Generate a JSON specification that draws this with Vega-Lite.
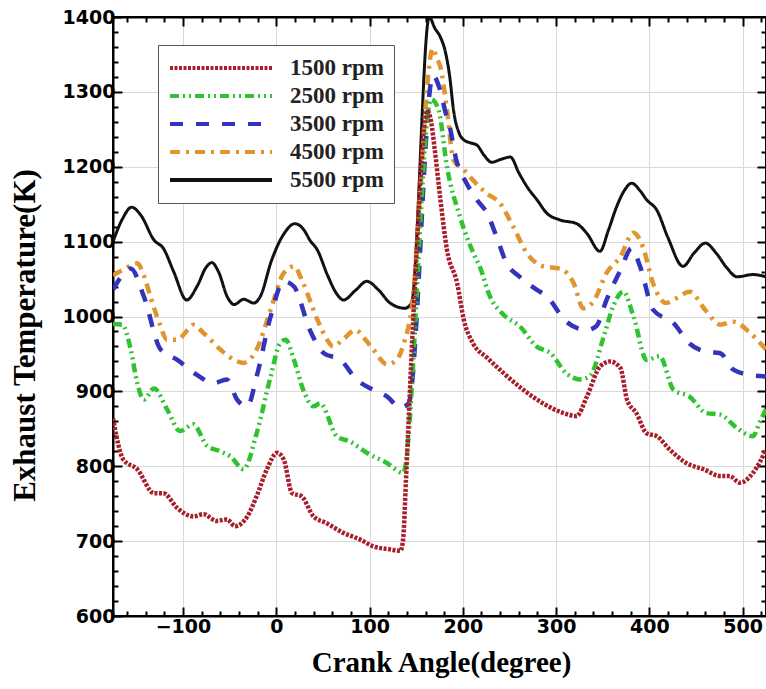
{
  "$schema": "https://vega.github.io/schema/vega-lite/v6.json",
  "width": 653,
  "height": 599,
  "autosize": {"type": "none"},
  "padding": {"left": 113, "top": 17, "right": 0, "bottom": 73},
  "background": "white",
  "config": {"view": {"stroke": "black", "strokeWidth": 2}},
  "datasets": {
    "curves": [
      {"rpm":"5500 rpm","x":-175,"T":1100},{"rpm":"5500 rpm","x":-165,"T":1130},{"rpm":"5500 rpm","x":-155,"T":1146},{"rpm":"5500 rpm","x":-145,"T":1135},{"rpm":"5500 rpm","x":-131,"T":1102},{"rpm":"5500 rpm","x":-121,"T":1091},{"rpm":"5500 rpm","x":-110,"T":1060},{"rpm":"5500 rpm","x":-96,"T":1022},{"rpm":"5500 rpm","x":-85,"T":1040},{"rpm":"5500 rpm","x":-75,"T":1066},{"rpm":"5500 rpm","x":-69,"T":1072},{"rpm":"5500 rpm","x":-62,"T":1060},{"rpm":"5500 rpm","x":-52,"T":1025},{"rpm":"5500 rpm","x":-45,"T":1016},{"rpm":"5500 rpm","x":-35,"T":1023},{"rpm":"5500 rpm","x":-24,"T":1018},{"rpm":"5500 rpm","x":-17,"T":1027},{"rpm":"5500 rpm","x":-5,"T":1075},{"rpm":"5500 rpm","x":8,"T":1110},{"rpm":"5500 rpm","x":20,"T":1124},{"rpm":"5500 rpm","x":30,"T":1115},{"rpm":"5500 rpm","x":36,"T":1102},{"rpm":"5500 rpm","x":44,"T":1089},{"rpm":"5500 rpm","x":55,"T":1055},{"rpm":"5500 rpm","x":65,"T":1030},{"rpm":"5500 rpm","x":72,"T":1022},{"rpm":"5500 rpm","x":85,"T":1035},{"rpm":"5500 rpm","x":97,"T":1047},{"rpm":"5500 rpm","x":110,"T":1035},{"rpm":"5500 rpm","x":122,"T":1018},{"rpm":"5500 rpm","x":138,"T":1011},{"rpm":"5500 rpm","x":145,"T":1018},{"rpm":"5500 rpm","x":164,"T":1400},{"rpm":"5500 rpm","x":170,"T":1385},{"rpm":"5500 rpm","x":176,"T":1373},{"rpm":"5500 rpm","x":181,"T":1355},{"rpm":"5500 rpm","x":186,"T":1320},{"rpm":"5500 rpm","x":190,"T":1276},{"rpm":"5500 rpm","x":196,"T":1245},{"rpm":"5500 rpm","x":201,"T":1236},{"rpm":"5500 rpm","x":208,"T":1232},{"rpm":"5500 rpm","x":215,"T":1229},{"rpm":"5500 rpm","x":223,"T":1215},{"rpm":"5500 rpm","x":231,"T":1206},{"rpm":"5500 rpm","x":241,"T":1210},{"rpm":"5500 rpm","x":251,"T":1213},{"rpm":"5500 rpm","x":260,"T":1192},{"rpm":"5500 rpm","x":269,"T":1173},{"rpm":"5500 rpm","x":280,"T":1155},{"rpm":"5500 rpm","x":290,"T":1138},{"rpm":"5500 rpm","x":304,"T":1129},{"rpm":"5500 rpm","x":322,"T":1124},{"rpm":"5500 rpm","x":333,"T":1111},{"rpm":"5500 rpm","x":347,"T":1087},{"rpm":"5500 rpm","x":356,"T":1115},{"rpm":"5500 rpm","x":365,"T":1147},{"rpm":"5500 rpm","x":373,"T":1168},{"rpm":"5500 rpm","x":381,"T":1178},{"rpm":"5500 rpm","x":390,"T":1168},{"rpm":"5500 rpm","x":397,"T":1156},{"rpm":"5500 rpm","x":408,"T":1142},{"rpm":"5500 rpm","x":420,"T":1105},{"rpm":"5500 rpm","x":436,"T":1067},{"rpm":"5500 rpm","x":448,"T":1085},{"rpm":"5500 rpm","x":460,"T":1098},{"rpm":"5500 rpm","x":472,"T":1084},{"rpm":"5500 rpm","x":483,"T":1065},{"rpm":"5500 rpm","x":494,"T":1053},{"rpm":"5500 rpm","x":511,"T":1056},{"rpm":"5500 rpm","x":525,"T":1053},

      {"rpm":"4500 rpm","x":-175,"T":1055},{"rpm":"4500 rpm","x":-165,"T":1062},{"rpm":"4500 rpm","x":-149,"T":1071},{"rpm":"4500 rpm","x":-142,"T":1055},{"rpm":"4500 rpm","x":-135,"T":1027},{"rpm":"4500 rpm","x":-125,"T":990},{"rpm":"4500 rpm","x":-117,"T":969},{"rpm":"4500 rpm","x":-106,"T":969},{"rpm":"4500 rpm","x":-95,"T":982},{"rpm":"4500 rpm","x":-89,"T":989},{"rpm":"4500 rpm","x":-78,"T":978},{"rpm":"4500 rpm","x":-60,"T":956},{"rpm":"4500 rpm","x":-45,"T":942},{"rpm":"4500 rpm","x":-35,"T":938},{"rpm":"4500 rpm","x":-21,"T":956},{"rpm":"4500 rpm","x":-6,"T":1009},{"rpm":"4500 rpm","x":8,"T":1058},{"rpm":"4500 rpm","x":19,"T":1067},{"rpm":"4500 rpm","x":29,"T":1044},{"rpm":"4500 rpm","x":44,"T":996},{"rpm":"4500 rpm","x":55,"T":968},{"rpm":"4500 rpm","x":61,"T":960},{"rpm":"4500 rpm","x":72,"T":970},{"rpm":"4500 rpm","x":85,"T":982},{"rpm":"4500 rpm","x":95,"T":970},{"rpm":"4500 rpm","x":104,"T":956},{"rpm":"4500 rpm","x":119,"T":936},{"rpm":"4500 rpm","x":129,"T":942},{"rpm":"4500 rpm","x":138,"T":969},{"rpm":"4500 rpm","x":144,"T":1000},{"rpm":"4500 rpm","x":168,"T":1358},{"rpm":"4500 rpm","x":172,"T":1345},{"rpm":"4500 rpm","x":176,"T":1333},{"rpm":"4500 rpm","x":183,"T":1276},{"rpm":"4500 rpm","x":190,"T":1209},{"rpm":"4500 rpm","x":201,"T":1196},{"rpm":"4500 rpm","x":211,"T":1182},{"rpm":"4500 rpm","x":225,"T":1165},{"rpm":"4500 rpm","x":240,"T":1151},{"rpm":"4500 rpm","x":254,"T":1120},{"rpm":"4500 rpm","x":269,"T":1084},{"rpm":"4500 rpm","x":286,"T":1067},{"rpm":"4500 rpm","x":304,"T":1064},{"rpm":"4500 rpm","x":319,"T":1044},{"rpm":"4500 rpm","x":329,"T":1011},{"rpm":"4500 rpm","x":340,"T":1020},{"rpm":"4500 rpm","x":354,"T":1058},{"rpm":"4500 rpm","x":369,"T":1080},{"rpm":"4500 rpm","x":383,"T":1112},{"rpm":"4500 rpm","x":393,"T":1093},{"rpm":"4500 rpm","x":404,"T":1044},{"rpm":"4500 rpm","x":418,"T":1018},{"rpm":"4500 rpm","x":430,"T":1025},{"rpm":"4500 rpm","x":443,"T":1033},{"rpm":"4500 rpm","x":461,"T":1007},{"rpm":"4500 rpm","x":476,"T":989},{"rpm":"4500 rpm","x":490,"T":993},{"rpm":"4500 rpm","x":508,"T":978},{"rpm":"4500 rpm","x":525,"T":956},

      {"rpm":"3500 rpm","x":-175,"T":1036},{"rpm":"3500 rpm","x":-165,"T":1055},{"rpm":"3500 rpm","x":-156,"T":1064},{"rpm":"3500 rpm","x":-142,"T":1027},{"rpm":"3500 rpm","x":-124,"T":956},{"rpm":"3500 rpm","x":-106,"T":942},{"rpm":"3500 rpm","x":-85,"T":922},{"rpm":"3500 rpm","x":-67,"T":911},{"rpm":"3500 rpm","x":-53,"T":916},{"rpm":"3500 rpm","x":-42,"T":889},{"rpm":"3500 rpm","x":-31,"T":880},{"rpm":"3500 rpm","x":-21,"T":920},{"rpm":"3500 rpm","x":-6,"T":1000},{"rpm":"3500 rpm","x":8,"T":1047},{"rpm":"3500 rpm","x":19,"T":1040},{"rpm":"3500 rpm","x":36,"T":982},{"rpm":"3500 rpm","x":51,"T":951},{"rpm":"3500 rpm","x":69,"T":942},{"rpm":"3500 rpm","x":86,"T":916},{"rpm":"3500 rpm","x":104,"T":902},{"rpm":"3500 rpm","x":119,"T":893},{"rpm":"3500 rpm","x":133,"T":878},{"rpm":"3500 rpm","x":142,"T":884},{"rpm":"3500 rpm","x":168,"T":1322},{"rpm":"3500 rpm","x":175,"T":1305},{"rpm":"3500 rpm","x":182,"T":1270},{"rpm":"3500 rpm","x":186,"T":1253},{"rpm":"3500 rpm","x":193,"T":1209},{"rpm":"3500 rpm","x":204,"T":1178},{"rpm":"3500 rpm","x":215,"T":1156},{"rpm":"3500 rpm","x":226,"T":1138},{"rpm":"3500 rpm","x":236,"T":1107},{"rpm":"3500 rpm","x":247,"T":1071},{"rpm":"3500 rpm","x":261,"T":1053},{"rpm":"3500 rpm","x":279,"T":1036},{"rpm":"3500 rpm","x":290,"T":1027},{"rpm":"3500 rpm","x":311,"T":993},{"rpm":"3500 rpm","x":333,"T":982},{"rpm":"3500 rpm","x":343,"T":987},{"rpm":"3500 rpm","x":354,"T":1022},{"rpm":"3500 rpm","x":369,"T":1062},{"rpm":"3500 rpm","x":381,"T":1091},{"rpm":"3500 rpm","x":390,"T":1067},{"rpm":"3500 rpm","x":404,"T":1009},{"rpm":"3500 rpm","x":426,"T":991},{"rpm":"3500 rpm","x":443,"T":964},{"rpm":"3500 rpm","x":461,"T":953},{"rpm":"3500 rpm","x":476,"T":951},{"rpm":"3500 rpm","x":490,"T":929},{"rpm":"3500 rpm","x":508,"T":922},{"rpm":"3500 rpm","x":525,"T":920},

      {"rpm":"2500 rpm","x":-175,"T":990},{"rpm":"2500 rpm","x":-165,"T":989},{"rpm":"2500 rpm","x":-156,"T":956},{"rpm":"2500 rpm","x":-149,"T":911},{"rpm":"2500 rpm","x":-142,"T":889},{"rpm":"2500 rpm","x":-131,"T":904},{"rpm":"2500 rpm","x":-117,"T":876},{"rpm":"2500 rpm","x":-103,"T":847},{"rpm":"2500 rpm","x":-89,"T":856},{"rpm":"2500 rpm","x":-74,"T":827},{"rpm":"2500 rpm","x":-60,"T":820},{"rpm":"2500 rpm","x":-49,"T":813},{"rpm":"2500 rpm","x":-35,"T":796},{"rpm":"2500 rpm","x":-21,"T":844},{"rpm":"2500 rpm","x":-6,"T":920},{"rpm":"2500 rpm","x":4,"T":964},{"rpm":"2500 rpm","x":10,"T":969},{"rpm":"2500 rpm","x":19,"T":942},{"rpm":"2500 rpm","x":29,"T":902},{"rpm":"2500 rpm","x":40,"T":880},{"rpm":"2500 rpm","x":47,"T":884},{"rpm":"2500 rpm","x":65,"T":840},{"rpm":"2500 rpm","x":79,"T":833},{"rpm":"2500 rpm","x":97,"T":818},{"rpm":"2500 rpm","x":119,"T":804},{"rpm":"2500 rpm","x":136,"T":791},{"rpm":"2500 rpm","x":166,"T":1290},{"rpm":"2500 rpm","x":174,"T":1276},{"rpm":"2500 rpm","x":183,"T":1200},{"rpm":"2500 rpm","x":197,"T":1133},{"rpm":"2500 rpm","x":213,"T":1080},{"rpm":"2500 rpm","x":218,"T":1067},{"rpm":"2500 rpm","x":229,"T":1027},{"rpm":"2500 rpm","x":244,"T":1002},{"rpm":"2500 rpm","x":261,"T":987},{"rpm":"2500 rpm","x":279,"T":960},{"rpm":"2500 rpm","x":294,"T":951},{"rpm":"2500 rpm","x":311,"T":924},{"rpm":"2500 rpm","x":326,"T":916},{"rpm":"2500 rpm","x":336,"T":920},{"rpm":"2500 rpm","x":351,"T":973},{"rpm":"2500 rpm","x":361,"T":1013},{"rpm":"2500 rpm","x":372,"T":1033},{"rpm":"2500 rpm","x":383,"T":1000},{"rpm":"2500 rpm","x":397,"T":942},{"rpm":"2500 rpm","x":411,"T":947},{"rpm":"2500 rpm","x":426,"T":902},{"rpm":"2500 rpm","x":443,"T":893},{"rpm":"2500 rpm","x":461,"T":871},{"rpm":"2500 rpm","x":476,"T":869},{"rpm":"2500 rpm","x":494,"T":851},{"rpm":"2500 rpm","x":511,"T":840},{"rpm":"2500 rpm","x":518,"T":858},{"rpm":"2500 rpm","x":525,"T":876},

      {"rpm":"1500 rpm","x":-175,"T":864},{"rpm":"1500 rpm","x":-164,"T":809},{"rpm":"1500 rpm","x":-149,"T":796},{"rpm":"1500 rpm","x":-131,"T":764},{"rpm":"1500 rpm","x":-121,"T":764},{"rpm":"1500 rpm","x":-106,"T":744},{"rpm":"1500 rpm","x":-89,"T":733},{"rpm":"1500 rpm","x":-78,"T":736},{"rpm":"1500 rpm","x":-64,"T":727},{"rpm":"1500 rpm","x":-53,"T":729},{"rpm":"1500 rpm","x":-44,"T":720},{"rpm":"1500 rpm","x":-31,"T":733},{"rpm":"1500 rpm","x":-21,"T":760},{"rpm":"1500 rpm","x":-10,"T":796},{"rpm":"1500 rpm","x":1,"T":818},{"rpm":"1500 rpm","x":8,"T":809},{"rpm":"1500 rpm","x":17,"T":764},{"rpm":"1500 rpm","x":27,"T":760},{"rpm":"1500 rpm","x":40,"T":733},{"rpm":"1500 rpm","x":54,"T":724},{"rpm":"1500 rpm","x":72,"T":711},{"rpm":"1500 rpm","x":90,"T":702},{"rpm":"1500 rpm","x":104,"T":693},{"rpm":"1500 rpm","x":122,"T":689},{"rpm":"1500 rpm","x":133,"T":687},{"rpm":"1500 rpm","x":136,"T":702},{"rpm":"1500 rpm","x":139,"T":780},{"rpm":"1500 rpm","x":147,"T":1000},{"rpm":"1500 rpm","x":162,"T":1275},{"rpm":"1500 rpm","x":166,"T":1260},{"rpm":"1500 rpm","x":170,"T":1222},{"rpm":"1500 rpm","x":176,"T":1156},{"rpm":"1500 rpm","x":183,"T":1089},{"rpm":"1500 rpm","x":194,"T":1044},{"rpm":"1500 rpm","x":201,"T":996},{"rpm":"1500 rpm","x":211,"T":964},{"rpm":"1500 rpm","x":226,"T":945},{"rpm":"1500 rpm","x":244,"T":924},{"rpm":"1500 rpm","x":265,"T":902},{"rpm":"1500 rpm","x":286,"T":884},{"rpm":"1500 rpm","x":308,"T":871},{"rpm":"1500 rpm","x":322,"T":867},{"rpm":"1500 rpm","x":333,"T":893},{"rpm":"1500 rpm","x":347,"T":933},{"rpm":"1500 rpm","x":358,"T":940},{"rpm":"1500 rpm","x":369,"T":931},{"rpm":"1500 rpm","x":376,"T":889},{"rpm":"1500 rpm","x":386,"T":871},{"rpm":"1500 rpm","x":397,"T":844},{"rpm":"1500 rpm","x":408,"T":840},{"rpm":"1500 rpm","x":422,"T":822},{"rpm":"1500 rpm","x":440,"T":804},{"rpm":"1500 rpm","x":458,"T":796},{"rpm":"1500 rpm","x":476,"T":787},{"rpm":"1500 rpm","x":486,"T":787},{"rpm":"1500 rpm","x":497,"T":778},{"rpm":"1500 rpm","x":511,"T":791},{"rpm":"1500 rpm","x":525,"T":822}
    ]
  },
  "data": {"name": "curves"},
  "layer": [
    {
      "mark": {"type": "line", "interpolate": "monotone", "clip": true},
      "encoding": {
        "x": {
          "field": "x", "type": "quantitative",
          "scale": {"domain": [-175, 525], "nice": false, "zero": false},
          "axis": {
            "orient": "bottom",
            "values": [-160,-140,-120,-100,-80,-60,-40,-20,0,20,40,60,80,100,120,140,160,180,200,220,240,260,280,300,320,340,360,380,400,420,440,460,480,500,520],
            "format": "d",
            "labelExpr": "datum.value % 100 === 0 ? datum.label : ''",
            "labelFont": "DejaVu Sans", "labelFontWeight": "bold", "labelFontSize": 19, "labelColor": "black",
            "labelPadding": 10, "labelBaseline": "top",
            "tickSize": {"condition": {"test": "datum.value % 100 === 0", "value": -9}, "value": -5},
            "tickColor": "black", "tickWidth": 2,
            "grid": true,
            "gridColor": "#d9d9d9",
            "gridOpacity": {"condition": {"test": "datum.value % 100 === 0", "value": 1}, "value": 0},
            "domainColor": "black", "domainWidth": 2,
            "title": "Crank Angle(degree)",
            "titleFont": "Liberation Serif", "titleFontWeight": "bold", "titleFontSize": 29, "titleColor": "black",
            "titleX": 328, "titleY": 46, "titleBaseline": "middle", "titleAlign": "center"
          }
        },
        "y": {
          "field": "T", "type": "quantitative",
          "scale": {"domain": [600, 1400], "nice": false, "zero": false},
          "axis": {
            "orient": "left",
            "values": [600,620,640,660,680,700,720,740,760,780,800,820,840,860,880,900,920,940,960,980,1000,1020,1040,1060,1080,1100,1120,1140,1160,1180,1200,1220,1240,1260,1280,1300,1320,1340,1360,1380,1400],
            "format": "d",
            "labelExpr": "datum.value % 100 === 0 ? datum.label : ''",
            "labelFont": "DejaVu Sans", "labelFontWeight": "bold", "labelFontSize": 19, "labelColor": "black",
            "labelPadding": 7,
            "tickSize": {"condition": {"test": "datum.value % 100 === 0", "value": -9}, "value": -5},
            "tickColor": "black", "tickWidth": 2,
            "grid": true,
            "gridColor": "#d9d9d9",
            "gridOpacity": {"condition": {"test": "datum.value % 100 === 0 && datum.value > 600 && datum.value < 1400", "value": 1}, "value": 0},
            "domainColor": "black", "domainWidth": 2,
            "title": "Exhaust Temperature(K)",
            "titleFont": "Liberation Serif", "titleFontWeight": "bold", "titleFontSize": 31, "titleColor": "black",
            "titleX": -88, "titleY": 318, "titleBaseline": "middle", "titleAlign": "center", "titleAngle": -90
          }
        },
        "color": {
          "field": "rpm", "type": "nominal",
          "scale": {"domain": ["1500 rpm","2500 rpm","3500 rpm","4500 rpm","5500 rpm"], "range": ["#a81f2c","#2fc42f","#3333bb","#e0952f","#111111"]},
          "legend": {
            "orient": "none", "legendX": 45, "legendY": 28, "title": null,
            "symbolType": "stroke", "symbolSize": 10404, "symbolStrokeWidth": 4,
            "labelFont": "Liberation Serif", "labelFontWeight": "bold", "labelFontSize": 23, "labelColor": "#222",
            "labelOffset": 16, "clipHeight": 26, "rowPadding": 2, "padding": 10,
            "strokeColor": "#555", "fillColor": "white"
          }
        },
        "strokeDash": {
          "field": "rpm", "type": "nominal",
          "scale": {"domain": ["1500 rpm","2500 rpm","3500 rpm","4500 rpm","5500 rpm"], "range": [[3,1.5],[9,4,2,4,2,4],[13,13],[10,6,3,6],[1,0]]},
          "legend": {
            "orient": "none", "legendX": 45, "legendY": 28, "title": null,
            "symbolType": "stroke", "symbolSize": 10404, "symbolStrokeWidth": 4,
            "labelFont": "Liberation Serif", "labelFontWeight": "bold", "labelFontSize": 23, "labelColor": "#222",
            "labelOffset": 16, "clipHeight": 26, "rowPadding": 2, "padding": 10,
            "strokeColor": "#555", "fillColor": "white"
          }
        },
        "strokeWidth": {"condition": {"test": "datum.rpm === '5500 rpm'", "value": 3}, "value": 4.5}
      }
    },
    {
      "mark": {"type": "point", "opacity": 0},
      "encoding": {
        "x": {
          "field": "x", "type": "quantitative",
          "scale": {"domain": [-175, 525], "nice": false, "zero": false},
          "axis": {
            "orient": "top",
            "values": [-160,-140,-120,-100,-80,-60,-40,-20,0,20,40,60,80,100,120,140,160,180,200,220,240,260,280,300,320,340,360,380,400,420,440,460,480,500,520],
            "labels": false, "grid": false, "title": null,
            "tickSize": {"condition": {"test": "datum.value % 100 === 0", "value": -9}, "value": -5},
            "tickColor": "black", "tickWidth": 2,
            "domainColor": "black", "domainWidth": 2
          }
        },
        "y": {
          "field": "T", "type": "quantitative",
          "scale": {"domain": [600, 1400], "nice": false, "zero": false},
          "axis": {
            "orient": "right",
            "values": [620,640,660,680,700,720,740,760,780,800,820,840,860,880,900,920,940,960,980,1000,1020,1040,1060,1080,1100,1120,1140,1160,1180,1200,1220,1240,1260,1280,1300,1320,1340,1360,1380],
            "labels": false, "grid": false, "title": null,
            "tickSize": {"condition": {"test": "datum.value % 100 === 0", "value": -9}, "value": -5},
            "tickColor": "black", "tickWidth": 2,
            "domainColor": "black", "domainWidth": 2
          }
        }
      }
    }
  ],
  "resolve": {"axis": {"x": "independent", "y": "independent"}}
}
